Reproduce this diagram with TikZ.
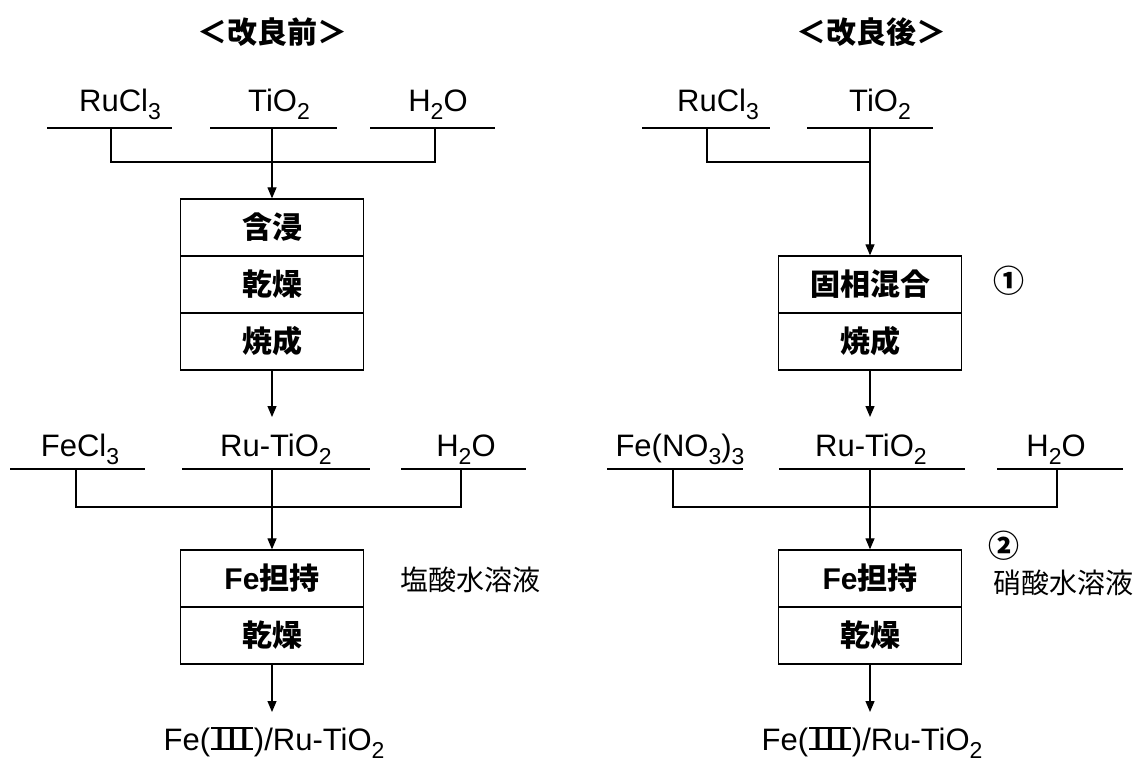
\documentclass[tikz,border=0pt]{standalone}
\usepackage{fontspec}
\usepackage{graphicx}
\setmainfont{Liberation Sans}
\newfontfamily\cjk{Noto Sans CJK JP}
\usetikzlibrary{arrows.meta}
\newcommand\sbs[1]{\raisebox{-8pt}{\fontsize{23}{23}\selectfont #1}}
\newsavebox\rombox
\newcommand\romthree{\kern1pt\sbox\rombox{\scalebox{1.35}[1]{\cjk Ⅲ}}%
  \ooalign{\usebox\rombox\cr\rule{\wd\rombox}{1.8pt}\cr\raisebox{20.8pt}{\rule{\wd\rombox}{1.8pt}}\cr}\kern1pt}
\tikzset{
  lab/.style={anchor=base, inner sep=0pt, font=\fontsize{31}{31}\selectfont},
  cell/.style={draw, line width=1.3pt, minimum width=183pt, minimum height=57pt, inner sep=0pt, font=\fontsize{30}{30}\selectfont\cjk\bfseries},
  ttl/.style={inner sep=0pt, font=\fontsize{30}{30}\selectfont\cjk\bfseries},
  note/.style={inner sep=0pt, font=\fontsize{28}{28}\selectfont\cjk},
  circ/.style={inner sep=0pt, font=\fontsize{31}{31}\selectfont\cjk\bfseries},
  ln/.style={line width=1.2pt},
  arr/.style={line width=1.2pt, -{Triangle[length=11pt,width=9pt]}},
}
\begin{document}
\begin{tikzpicture}[x=1pt,y=-1pt]
\useasboundingbox[fill=white] (0,0) rectangle (1134,765);

% ================= left: before =================
\node[ttl] (t1) at (272,32) {＜改良前＞};
\node[lab] (ru1) at (120,112) {RuCl\sbs{3}};
\node[lab] (ti1) at (279,112) {TiO\sbs{2}};
\node[lab] (w1) at (438,112) {H\sbs{2}O};
\draw[ln] (47,128) -- (172,128);
\draw[ln] (210,128) -- (337,128);
\draw[ln] (370,128) -- (495,128);
\coordinate (a1) at (111,128);
\coordinate (b1) at (272,128);
\coordinate (c1) at (435,128);
\coordinate (ja1) at (111,162);
\coordinate (jc1) at (435,162);
\draw[ln] (a1) -- (ja1) -- (jc1) -- (c1);

\node[cell] (k1) at (272,227.5) {含浸};
\node[cell] (k2) at (272,284.5) {乾燥};
\node[cell] (k3) at (272,341.5) {焼成};
\draw[arr] (b1) -- (k1.north);
\coordinate (p1) at (272,417);
\draw[arr] (k3.south) -- (p1);

\node[lab] (fe1) at (80,456) {FeCl\sbs{3}};
\node[lab] (rt1) at (276,456) {Ru-TiO\sbs{2}};
\node[lab] (w2) at (466,456) {H\sbs{2}O};
\draw[ln] (10,469) -- (145,469);
\draw[ln] (182,469) -- (370,469);
\draw[ln] (401,469) -- (526,469);
\coordinate (a2) at (76,469);
\coordinate (b2) at (272,469);
\coordinate (c2) at (461,469);
\coordinate (ja2) at (76,507);
\coordinate (jc2) at (461,507);
\draw[ln] (a2) -- (ja2) -- (jc2) -- (c2);

\node[cell] (m1) at (272,578.5) {{\rmfamily\bfseries Fe}担持};
\node[cell] (m2) at (272,635.5) {乾燥};
\draw[arr] (b2) -- (m1.north);
\node[note, anchor=west] (s1) at (400,580) {塩酸水溶液};
\coordinate (p2) at (272,712);
\draw[arr] (m2.south) -- (p2);
\node[lab] (r1) at (274,750) {Fe(\romthree)/Ru-TiO\sbs{2}};

% ================= right: after =================
\node[ttl] (t2) at (871,32) {＜改良後＞};
\node[lab] (ru2) at (718,112) {RuCl\sbs{3}};
\node[lab] (ti2) at (880,112) {TiO\sbs{2}};
\draw[ln] (642,128) -- (770,128);
\draw[ln] (807,128) -- (933,128);
\coordinate (a3) at (707,128);
\coordinate (b3) at (870,128);
\coordinate (ja3) at (707,162);
\coordinate (jb3) at (870,162);
\draw[ln] (a3) -- (ja3) -- (jb3);

\node[cell] (n1) at (870,284.5) {固相混合};
\node[cell] (n2) at (870,341.5) {焼成};
\draw[arr] (b3) -- (n1.north);
\node[circ] (c1n) at (1009,281) {①};
\coordinate (p3) at (870,417);
\draw[arr] (n2.south) -- (p3);

\node[lab] (fe2) at (680,456) {Fe(NO\sbs{3})\sbs{3}};
\node[lab] (rt2) at (871,456) {Ru-TiO\sbs{2}};
\node[lab] (w3) at (1056,456) {H\sbs{2}O};
\draw[ln] (607,469) -- (743,469);
\draw[ln] (779,469) -- (965,469);
\draw[ln] (997,469) -- (1123,469);
\coordinate (a4) at (673,469);
\coordinate (b4) at (870,469);
\coordinate (c4) at (1057,469);
\coordinate (ja4) at (673,507);
\coordinate (jc4) at (1057,507);
\draw[ln] (a4) -- (ja4) -- (jc4) -- (c4);

\node[cell] (q1) at (870,578.5) {{\rmfamily\bfseries Fe}担持};
\node[cell] (q2) at (870,635.5) {乾燥};
\draw[arr] (b4) -- (q1.north);
\node[circ] (c2n) at (1004,546) {②};
\node[note, anchor=west] (s2) at (993,583) {硝酸水溶液};
\coordinate (p4) at (870,712);
\draw[arr] (q2.south) -- (p4);
\node[lab] (r2) at (872,750) {Fe(\romthree)/Ru-TiO\sbs{2}};
\end{tikzpicture}
\end{document}
